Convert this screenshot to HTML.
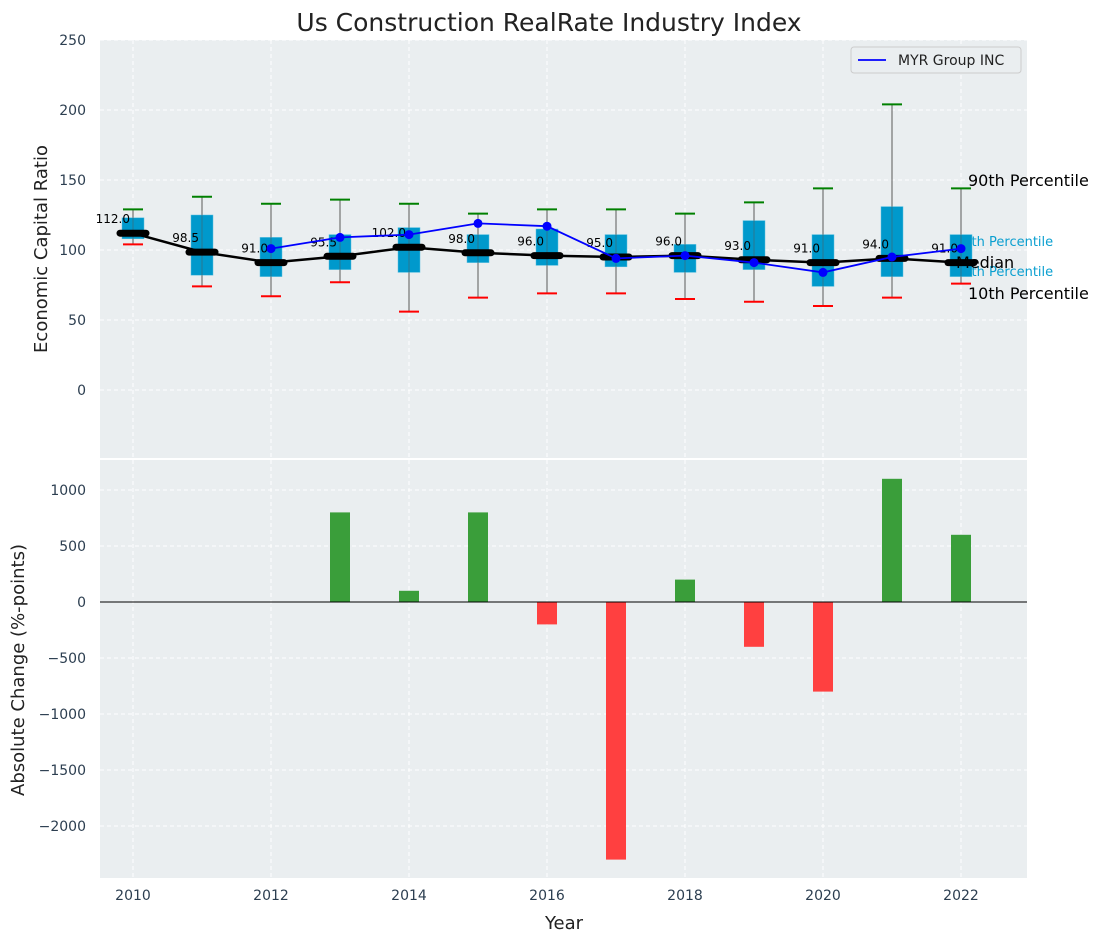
<!DOCTYPE html>
<html><head><meta charset="utf-8"><style>
body{margin:0;background:#fff;font-family:"Liberation Sans","DejaVu Sans",sans-serif}
svg text{font-family:"DejaVu Sans","Liberation Sans",sans-serif}
</style></head><body>
<svg id="c" width="1103" height="942" xmlns="http://www.w3.org/2000/svg"></svg>
<script>
const years=[2010,2011,2012,2013,2014,2015,2016,2017,2018,2019,2020,2021,2022];
const medians=[112,98.5,91,95.5,102,98,96,95,96,93,91,94,91];
const q3=[123,125,109,111,116,111,115,111,104,121,111,131,111];
const q1=[108,82,81,86,84,91,89,88,84,86,74,81,81];
const p90=[129,138,133,136,133,126,129,129,126,134,144,204,144];
const p10=[104,74,67,77,56,66,69,69,65,63,60,66,76];
const myrYears=[2012,2013,2014,2015,2016,2017,2018,2019,2020,2021,2022];
const myr=[101,109,111,119,117,94,96,91,84,95,101];
const changes=[0,0,0,800,100,800,-200,-2300,200,-400,-800,1100,600];
const topTicks=[0,50,100,150,200,250];
const botTicks=[-2000,-1500,-1000,-500,0,500,1000];
const xTicks=[2010,2012,2014,2016,2018,2020,2022];

const svg=document.getElementById('c');
const NS='http://www.w3.org/2000/svg';
function el(t,a,p){const e=document.createElementNS(NS,t);for(const k in a)e.setAttribute(k,a[k]);(p||svg).appendChild(e);return e;}
const X=v=>133+(v-2010)*69;
const Y1=v=>390-v*1.4;
const Y2=v=>602-v*0.112;
const L=100,R=1027;

let b=el('rect',{x:L,y:40,width:R-L,height:418,fill:'#eaeef0'});

b=el('rect',{x:L,y:460,width:R-L,height:418,fill:'#eaeef0'});


xTicks.forEach(t=>{
  el('line',{x1:X(t),x2:X(t),y1:40,y2:458,stroke:'#fff','stroke-dasharray':'4,3'});
  el('line',{x1:X(t),x2:X(t),y1:460,y2:878,stroke:'#fff','stroke-dasharray':'4,3'});
  const tx=el('text',{x:X(t),y:900,'font-size':14,fill:'#2c3e50','text-anchor':'middle'});tx.textContent=t;
  
});
topTicks.forEach(t=>{
  el('line',{x1:L,x2:R,y1:Y1(t),y2:Y1(t),stroke:'#fff','stroke-dasharray':'4,3'});
  const tx=el('text',{x:86,y:Y1(t)+5,'font-size':14,fill:'#2c3e50','text-anchor':'end'});tx.textContent=t;
  
});
botTicks.forEach(t=>{
  el('line',{x1:L,x2:R,y1:Y2(t),y2:Y2(t),stroke:'#fff','stroke-dasharray':'4,3'});
  const tx=el('text',{x:86,y:Y2(t)+5,'font-size':14,fill:'#2c3e50','text-anchor':'end'});tx.textContent=(t<0?'\u2212'+(-t):t);
  
});

[['75th Percentile',241],['25th Percentile',271]].forEach(a=>{
  const t=el('text',{x:955,y:a[1]+5,'font-size':13,fill:'#0a9fd0'});t.textContent=a[0];
  
});

years.forEach((y,i)=>{
  const x=X(y);
  el('line',{x1:x,x2:x,y1:Y1(p90[i]),y2:Y1(p10[i]),stroke:'#888','stroke-width':1.2});
  const r=el('rect',{x:x-11,y:Y1(q3[i]),width:22,height:Y1(q1[i])-Y1(q3[i]),fill:'#0099cc',stroke:'#5bc0e0','stroke-width':0.5});
  
  el('line',{x1:x,x2:x,y1:Y1(p90[i]),y2:Y1(p10[i]),stroke:'#555','stroke-width':1,opacity:0.5});
  const g=el('line',{x1:x-10,x2:x+10,y1:Y1(p90[i]),y2:Y1(p90[i]),stroke:'green','stroke-width':2});
  
  const rd=el('line',{x1:x-10,x2:x+10,y1:Y1(p10[i]),y2:Y1(p10[i]),stroke:'red','stroke-width':2});
  
});
let p=el('polyline',{points:years.map((y,i)=>X(y)+','+Y1(medians[i])).join(' '),fill:'none',stroke:'#000','stroke-width':2.5});

years.forEach((y,i)=>{
  const m=el('line',{x1:X(y)-13,x2:X(y)+13,y1:Y1(medians[i]),y2:Y1(medians[i]),stroke:'#000','stroke-width':7,'stroke-linecap':'round'});
  
  const t=el('text',{x:X(y)-3,y:Y1(medians[i])-10,'font-size':12,fill:'#000','text-anchor':'end'});t.textContent=medians[i].toFixed(1);
  
});
p=el('polyline',{points:myrYears.map((y,i)=>X(y)+','+Y1(myr[i])).join(' '),fill:'none',stroke:'blue','stroke-width':1.8});

myrYears.forEach((y,i)=>{
  const c=el('circle',{cx:X(y),cy:Y1(myr[i]),r:4.5,fill:'blue'});
  
});
[['90th Percentile',968,186],['Median',956,268],['10th Percentile',968,299]].forEach(a=>{
  const t=el('text',{x:a[1],y:a[2],'font-size':16,fill:'#000'});t.textContent=a[0];
  
});
let lg=el('g',{});
el('rect',{x:851,y:47,width:170,height:26,rx:3,fill:'#eaeef0',stroke:'#ccc'},lg);
el('line',{x1:858,x2:886,y1:60,y2:60,stroke:'blue','stroke-width':1.8},lg);
let lt=el('text',{x:898,y:65,'font-size':14,fill:'#222'},lg);lt.textContent='MYR Group INC';

years.forEach((y,i)=>{
  const v=changes[i];if(v===0)return;
  const r=el('rect',{x:X(y)-10,y:Math.min(Y2(v),Y2(0)),width:20,height:Math.abs(Y2(v)-Y2(0)),fill:v>0?'#3a9e3a':'#ff4040'});
  
});
el('line',{x1:L,x2:R,y1:Y2(0),y2:Y2(0),stroke:'#000','stroke-width':1});

let t=el('text',{x:549,y:31,'font-size':25,fill:'#222','text-anchor':'middle'});t.textContent='Us Construction RealRate Industry Index';

t=el('text',{x:564,y:929,'font-size':18,fill:'#222','text-anchor':'middle'});t.textContent='Year';

t=el('text',{x:47,y:249,'font-size':18,fill:'#222','text-anchor':'middle',transform:'rotate(-90 47 249)'});t.textContent='Economic Capital Ratio';

t=el('text',{x:24,y:670,'font-size':18,fill:'#222','text-anchor':'middle',transform:'rotate(-90 24 670)'});t.textContent='Absolute Change (%-points)';

</script>
</body></html>
